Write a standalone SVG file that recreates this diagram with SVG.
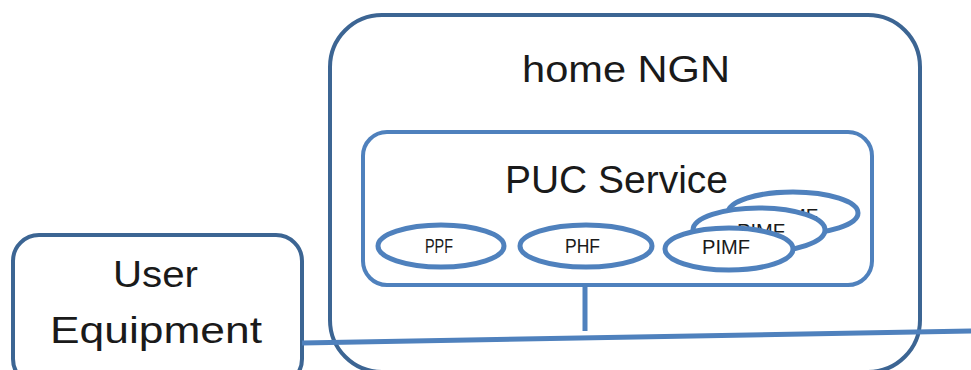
<svg xmlns="http://www.w3.org/2000/svg" width="971" height="370" viewBox="0 0 971 370">
  <style>
    .frame { fill: #ffffff; stroke: #3c6593; stroke-width: 4; }
    .inner { fill: #ffffff; stroke: #4f81bd; stroke-width: 4; }
    .fn { fill: #ffffff; stroke: #4f81bd; stroke-width: 5; }
    .link { stroke: #4f81bd; stroke-width: 5; fill: none; stroke-linecap: butt; }
    text { font-family: "Liberation Sans", Arial, sans-serif; fill: #1a1a1a; text-anchor: start; }
    .big { font-size: 36px; }
    .mid { font-size: 38px; }
    .small { font-size: 21px; }
  </style>

  <!-- User Equipment -->
  <g id="user-equipment">
    <rect class="frame" x="13" y="235" width="289" height="150" rx="26" ry="26"/>
    <text class="big" x="113" y="287" textLength="85" lengthAdjust="spacingAndGlyphs">User</text>
    <text class="big" x="50" y="343" textLength="212" lengthAdjust="spacingAndGlyphs">Equipment</text>
  </g>

  <!-- home NGN container -->
  <g id="home-ngn">
    <rect class="frame" x="330" y="15" width="590" height="357" rx="52" ry="52"/>
    <text class="big" x="522" y="82" textLength="208" lengthAdjust="spacingAndGlyphs">home NGN</text>
  </g>

  <!-- PUC Service block with its functions -->
  <g id="puc-service">
    <rect class="inner" x="363" y="132" width="509" height="153" rx="24" ry="24"/>
    <text class="mid" x="505" y="193" textLength="223" lengthAdjust="spacingAndGlyphs">PUC Service</text>
  </g>

  <g id="ppf">
    <ellipse class="fn" cx="441" cy="246" rx="63" ry="21"/>
    <text class="small" x="425" y="253" textLength="28" lengthAdjust="spacingAndGlyphs">PPF</text>
  </g>

  <g id="phf">
    <ellipse class="fn" cx="586" cy="246" rx="66" ry="21"/>
    <text class="small" x="565" y="253" textLength="35" lengthAdjust="spacingAndGlyphs">PHF</text>
  </g>

  <!-- stacked PIMF instances, back to front -->
  <g id="pimf-3">
    <ellipse class="fn" cx="793" cy="213" rx="65" ry="21"/>
    <text class="small" x="770" y="223" textLength="48" lengthAdjust="spacingAndGlyphs">PIMF</text>
  </g>
  <g id="pimf-2">
    <ellipse class="fn" cx="759" cy="230" rx="66" ry="22"/>
    <text class="small" x="737" y="238" textLength="48" lengthAdjust="spacingAndGlyphs">PIMF</text>
  </g>
  <g id="pimf-1">
    <ellipse class="fn" cx="729" cy="249" rx="64" ry="21"/>
    <text class="small" x="702" y="254" textLength="48" lengthAdjust="spacingAndGlyphs">PIMF</text>
  </g>

  <!-- connectors -->
  <g id="connectors">
    <line class="link" x1="302" y1="343" x2="971" y2="331"/>
    <line class="link" x1="585" y1="285" x2="585" y2="331"/>
  </g>
</svg>
